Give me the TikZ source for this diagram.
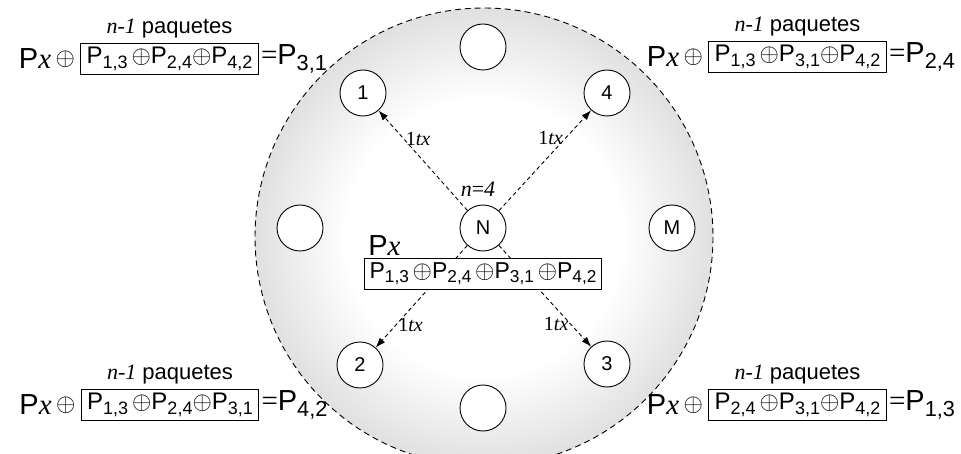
\documentclass[tikz,border=0pt]{standalone}
\usepackage{fontspec}
\setmainfont{Liberation Sans}
\newfontfamily\tms{Liberation Serif}
\usetikzlibrary{positioning, arrows.meta}

% sombreado de la red
\pgfdeclareradialshading{red}{\pgfpoint{0bp}{0bp}}{%
  color(0bp)=(white); color(15bp)=(white); color(25bp)=(black!12); color(50bp)=(black!12)}

\newcommand{\Px}{P{\tms\itshape x}}
\newcommand{\Pk}[1]{P\raisebox{-0.35ex}{\scalebox{0.75}{#1}}}
\newcommand{\opl}{$\oplus$}
\newcommand{\nmenos}{{\tms\itshape n-1} paquetes}
\newcommand{\utx}{{\tms 1\itshape tx}}

\begin{document}
\begin{tikzpicture}[x=1pt, y=-1pt,
    nodo/.style = {
      circle, draw, fill = white, line width = 0.9pt,
      minimum size = 46pt, inner sep = 0pt,
      font = \fontsize{20}{20}\selectfont
    },
    pbox/.style = {
      rectangle, draw, fill = white, line width = 0.9pt,
      inner xsep = 6pt, inner ysep = 2pt, minimum height = 31pt,
      font = \fontsize{24}{24}\selectfont
    },
    ecu/.style = {inner sep = 0pt, font = \fontsize{29}{29}\selectfont},
    etq/.style = {inner sep = 1pt, font = \fontsize{22}{22}\selectfont},
    tx/.style  = {inner sep = 2pt, font = \fontsize{20}{20}\selectfont},
    darr/.style = {-{Latex[length=10pt, width=7pt]}, dash pattern = on 4pt off 3pt, line width = 0.9pt}
  ]
  \useasboundingbox (0,0) rectangle (961,454);

  % Red (circulo sombreado)
  \begin{scope}
    \clip (0,0) rectangle (961,454);
    \shade[shading = red] (484,237) circle (229);
    \draw[dash pattern = on 6pt off 4pt, line width = 0.9pt] (484,237) circle (229);
  \end{scope}

  % Nodos de la red
  \node[nodo] (arriba) at (483,47)  {};
  \node[nodo] (n1)     at (363,93)  {1};
  \node[nodo] (n4)     at (607,93)  {4};
  \node[nodo] (izq)    at (300,228) {};
  \node[nodo] (N)      at (483,228) {N};
  \node[nodo] (M)      at (672,228) {M};
  \node[nodo] (n2)     at (360,365) {2};
  \node[nodo] (n3)     at (607,364) {3};
  \node[nodo] (abajo)  at (483,408) {};

  % Transmisiones
  \draw[darr] (N) -- node[tx, pos = 0.72, right] (t1) {\utx} (n1);
  \draw[darr] (N) -- node[tx, pos = 0.72, left]  (t4) {\utx} (n4);
  \draw[darr] (N) -- node[tx, pos = 0.78, right] (t2) {\utx} (n2);
  \draw[darr] (N) -- node[tx, pos = 0.78, left]  (t3) {\utx} (n3);

  % Paquete codificado en N
  \node[pbox, font = \fontsize{23}{23}\selectfont, inner xsep = 5pt] (caja) at (483,274)
    {\Pk{1,3}\,\opl\Pk{2,4}\,\opl\Pk{3,1}\,\opl\Pk{4,2}};
  \node[ecu, anchor = south west] (px) at ([xshift = 4pt, yshift = 2pt]caja.north west) {\Px};
  \node[etq, above = 7pt of N, xshift = -5pt] (n) {{\tms\itshape n}{\tms =}{\tms\itshape 4}};

  % Decodificacion en 1
  \node[pbox] (b31) at (169.5,59) {\Pk{1,3}\,\opl\Pk{2,4}\opl\Pk{4,2}};
  \node[ecu, left = 5pt of b31]  (o31) {\opl};
  \node[ecu, left = 4pt of o31]  (x31) {\Px};
  \node[ecu, right = 2pt of b31] (r31) {{\tms=}\Pk{3,1}};
  \node[etq, above = 4pt of b31] (p31) {\nmenos};

  % Decodificacion en 4
  \node[pbox] (b24) at (797.5,57) {\Pk{1,3}\,\opl\Pk{3,1}\opl\Pk{4,2}};
  \node[ecu, left = 5pt of b24]  (o24) {\opl};
  \node[ecu, left = 4pt of o24]  (x24) {\Px};
  \node[ecu, right = 2pt of b24] (r24) {{\tms=}\Pk{2,4}};
  \node[etq, above = 4pt of b24] (p24) {\nmenos};

  % Decodificacion en 2
  \node[pbox] (b42) at (170,405) {\Pk{1,3}\,\opl\Pk{2,4}\opl\Pk{3,1}};
  \node[ecu, left = 5pt of b42]  (o42) {\opl};
  \node[ecu, left = 4pt of o42]  (x42) {\Px};
  \node[ecu, right = 2pt of b42] (r42) {{\tms=}\Pk{4,2}};
  \node[etq, above = 4pt of b42] (p42) {\nmenos};

  % Decodificacion en 3
  \node[pbox] (b13) at (797.5,405) {\Pk{2,4}\,\opl\Pk{3,1}\opl\Pk{4,2}};
  \node[ecu, left = 5pt of b13]  (o13) {\opl};
  \node[ecu, left = 4pt of o13]  (x13) {\Px};
  \node[ecu, right = 2pt of b13] (r13) {{\tms=}\Pk{1,3}};
  \node[etq, above = 4pt of b13] (p13) {\nmenos};

\end{tikzpicture}
\end{document}
